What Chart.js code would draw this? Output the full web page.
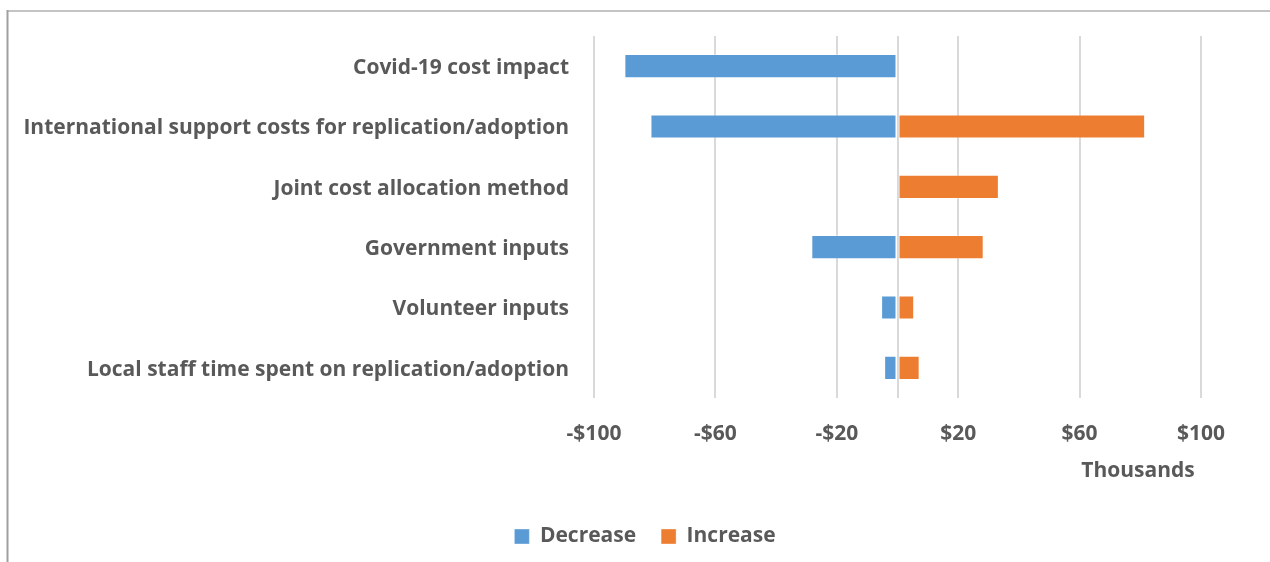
<!DOCTYPE html>
<html>
<head>
<meta charset="utf-8">
<script src="https://cdn.jsdelivr.net/npm/chart.js@4/dist/chart.umd.min.js"></script>
<style>
  html, body { margin: 0; padding: 0; background: #ffffff; }
  #wrap { width: 1270px; height: 562px; position: relative; }
</style>
</head>
<body>
<div id="wrap"><canvas id="chart" width="1270" height="562"></canvas></div>
<script>
// Sensitivity of cost to each assumption (thousands of dollars)
const categories = [
  "Covid-19 cost impact",
  "International support costs for replication/adoption",
  "Joint cost allocation method",
  "Government inputs",
  "Volunteer inputs",
  "Local staff time spent on replication/adoption"
];
const decreaseValues = [-90, -81.4, null, -28.4, -5.4, -4.4];
const increaseValues = [null, 81.6, 33.4, 28.4, 5.5, 7.3];
const xTickValues = [-100, -60, -20, 0, 20, 60, 100];
const seriesNames = ["Decrease", "Increase"];
const unitsLabel = "Thousands";

const FONT = "'Open Sans', Lato, sans-serif";
const FONT_SIZE = 21;
const TEXT = "#595959";

// Frame around the chart (top and left edges) and the display-units label
const framePlugin = {
  id: "frame",
  beforeDraw(chart) {
    const ctx = chart.ctx;
    ctx.save();
    ctx.strokeStyle = "#c4c4c4";
    ctx.lineWidth = 2;
    ctx.beginPath();
    ctx.moveTo(7, 11);
    ctx.lineTo(1270, 11);
    ctx.stroke();
    ctx.strokeStyle = "#a0a0a0";
    ctx.beginPath();
    ctx.moveTo(7.5, 10);
    ctx.lineTo(7.5, 562);
    ctx.stroke();
    ctx.restore();
  },
  afterDraw(chart) {
    const ctx = chart.ctx;
    const area = chart.chartArea;
    ctx.save();
    ctx.fillStyle = TEXT;
    ctx.font = "bold " + FONT_SIZE + "px " + FONT;
    ctx.textAlign = "center";
    ctx.textBaseline = "middle";
    ctx.fillText(unitsLabel, area.right - 63, area.bottom + 73);
    ctx.restore();
  }
};

new Chart(document.getElementById("chart"), {
  type: "bar",
  data: {
    labels: categories,
    datasets: [
      {
        label: seriesNames[0],
        data: decreaseValues,
        backgroundColor: "#5B9BD5",
        borderColor: "rgba(255,255,255,0.35)",
        borderWidth: 1,
        borderSkipped: false,
        categoryPercentage: 0.8,
        barPercentage: 0.5
      },
      {
        label: seriesNames[1],
        data: increaseValues,
        backgroundColor: "#ED7D31",
        borderColor: "rgba(255,255,255,0.35)",
        borderWidth: 1,
        borderSkipped: false,
        categoryPercentage: 0.8,
        barPercentage: 0.5
      }
    ]
  },
  options: {
    indexAxis: "y",
    responsive: false,
    animation: false,
    devicePixelRatio: 1,
    layout: { padding: { top: 36, right: 69, bottom: 5, left: 89 } },
    scales: {
      x: {
        stacked: true,
        min: -100,
        max: 100,
        afterBuildTicks(scale) {
          scale.ticks = xTickValues.map(v => ({ value: v }));
        },
        afterFit(scale) { scale.height = 103; },
        grid: { color: "#d9d9d9", lineWidth: 2, drawTicks: false },
        border: { display: false },
        ticks: {
          padding: 23,
          color: TEXT,
          font: { family: FONT, size: FONT_SIZE, weight: "bold" },
          callback(v) {
            if (v === 0) return "";
            return (v < 0 ? "-$" : "$") + Math.abs(v);
          }
        }
      },
      y: {
        stacked: true,
        afterFit(scale) {
          scale.width = 505;
          // long category names may extend left of the axis box
          scale._computeLabelArea = () => undefined;
        },
        grid: { display: false },
        border: { display: false },
        ticks: {
          padding: 17,
          labelOffset: 2,
          color: TEXT,
          font: { family: FONT, size: FONT_SIZE, weight: "bold" }
        }
      }
    },
    plugins: {
      legend: {
        position: "bottom",
        labels: {
          boxWidth: 15,
          boxHeight: 15,
          padding: 25,
          color: TEXT,
          font: { family: FONT, size: FONT_SIZE, weight: "bold" }
        }
      },
      tooltip: { enabled: false }
    }
  },
  plugins: [framePlugin]
});
</script>
</body>
</html>
